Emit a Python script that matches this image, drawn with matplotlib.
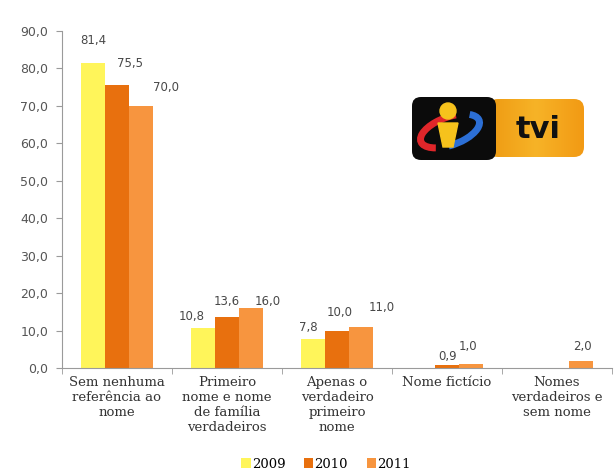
"""Perfil de identificação nas notícias TVI, 2009-2011 — barras agrupadas."""
import matplotlib.pyplot as plt
import numpy as np
from matplotlib.colors import LinearSegmentedColormap
from matplotlib.patches import FancyBboxPatch, Arc, Circle, Polygon

CATEGORIES = [
    "Sem nenhuma\nreferência ao\nnome",
    "Primeiro\nnome e nome\nde família\nverdadeiros",
    "Apenas o\nverdadeiro\nprimeiro\nnome",
    "Nome fictício",
    "Nomes\nverdadeiros e\nsem nome",
]
YEARS = ["2009", "2010", "2011"]
V2009 = [81.4, 10.8, 7.8, np.nan, np.nan]
V2010 = [75.5, 13.6, 10.0, 0.9, np.nan]
V2011 = [70.0, 16.0, 11.0, 1.0, 2.0]
YTICKS = [0, 10, 20, 30, 40, 50, 60, 70, 80, 90]

COLORS = ["#FFF55A", "#E8700E", "#F7953F"]

# label offsets (pixels) from each bar top, per category x series
LABEL_DX = [[1, 13, 25], [-11, 0, 17], [-4, 3, 21], [0, 1, -3], [0, 0, 1]]
LABEL_DY = [[23, 22, 18], [11, 16, 7], [11, 18, 19], [0, 8, 18], [0, 0, 14]]

SERIF = "DejaVu Serif"
SANS = "DejaVu Sans"


def fmt(v):
    return f"{v:.1f}".replace(".", ",")


def draw_logo(fig):
    lx = fig.add_axes([410 / 615, 1 - 163 / 473, 180 / 615, 68 / 473])
    lx.set_xlim(0, 180)
    lx.set_ylim(68, 0)
    lx.axis("off")

    # orange plate with gradient
    plate = FancyBboxPatch((78, 4), 96, 58, boxstyle="round,pad=0,rounding_size=10",
                           facecolor="none", edgecolor="none")
    lx.add_patch(plate)
    grad = np.linspace(0, 1, 100)[None, :]
    cmap = LinearSegmentedColormap.from_list("tvi", ["#EE9A12", "#F7B327", "#F29A14"])
    im = lx.imshow(grad, extent=(78, 174, 62, 4), cmap=cmap, aspect="auto", zorder=1)
    im.set_clip_path(plate)

    # black block
    lx.add_patch(FancyBboxPatch((2, 2), 84, 63, boxstyle="round,pad=0,rounding_size=9",
                                facecolor="#0B0B0B", edgecolor="none", zorder=2))
    # orbit swooshes
    lx.add_patch(Arc((40, 36), 62, 28, angle=-20, theta1=-20, theta2=115,
                     color="#2C6FD6", lw=5, zorder=3))
    lx.add_patch(Arc((40, 36), 62, 28, angle=-20, theta1=150, theta2=310,
                     color="#E0262A", lw=5, zorder=3))
    # yellow "i"
    lx.add_patch(Circle((38, 16), 8, color="#F6C21C", zorder=4))
    lx.add_patch(Polygon([(28, 28), (48, 28), (43, 52), (33, 52)],
                         closed=True, color="#F6C21C", zorder=4))
    lx.text(128, 34, "tvi", fontsize=22, fontweight="bold", color="#111111",
            ha="center", va="center", zorder=5)


def main():
    fig = plt.figure(figsize=(6.15, 4.73), dpi=100)
    ax = fig.add_axes([62 / 615, 1 - 368 / 473, 550 / 615, 337 / 473])

    x = np.arange(len(CATEGORIES))
    w = 0.22
    series = [V2009, V2010, V2011]
    for j, (vals, col, yr) in enumerate(zip(series, COLORS, YEARS)):
        pos = x + (j - 1) * w
        ax.bar(pos, vals, w, color=col, label=yr, zorder=2)
        for i, v in enumerate(vals):
            if np.isnan(v):
                continue
            ax.annotate(fmt(v), (pos[i], v), xytext=(LABEL_DX[i][j], LABEL_DY[i][j]),
                        textcoords="offset pixels", ha="center", va="center",
                        fontsize=8.5, color="#484848", family=SANS)

    ax.set_xlim(-0.5, len(CATEGORIES) - 0.5)
    ax.set_ylim(0, 90)
    ax.set_yticks(YTICKS)
    ax.set_yticklabels([fmt(t) for t in YTICKS], fontsize=9, color="#555555", family=SANS)
    ax.set_xticks(x)
    ax.set_xticklabels(CATEGORIES, fontsize=9.5, family=SERIF, color="#333333",
                       linespacing=1.2, va="top")
    ax.set_xticks(np.arange(len(CATEGORIES) + 1) - 0.5, minor=True)
    ax.tick_params(axis="x", which="major", length=0, pad=6)
    ax.tick_params(axis="x", which="minor", length=4, color="#9a9a9a")
    ax.tick_params(axis="y", length=4, color="#9a9a9a", pad=6)
    for s in ("top", "right"):
        ax.spines[s].set_visible(False)
    ax.spines["left"].set_color("#9a9a9a")
    ax.spines["bottom"].set_color("#9a9a9a")

    fig.legend(loc="lower center", bbox_to_anchor=(0.53, -0.02), ncol=3, frameon=False,
               handlelength=0.7, handleheight=0.7, handletextpad=0.1, columnspacing=1.4,
               prop={"family": SERIF, "size": 9.5})

    draw_logo(fig)
    fig.savefig("out.png", dpi=100)


if __name__ == "__main__":
    main()
